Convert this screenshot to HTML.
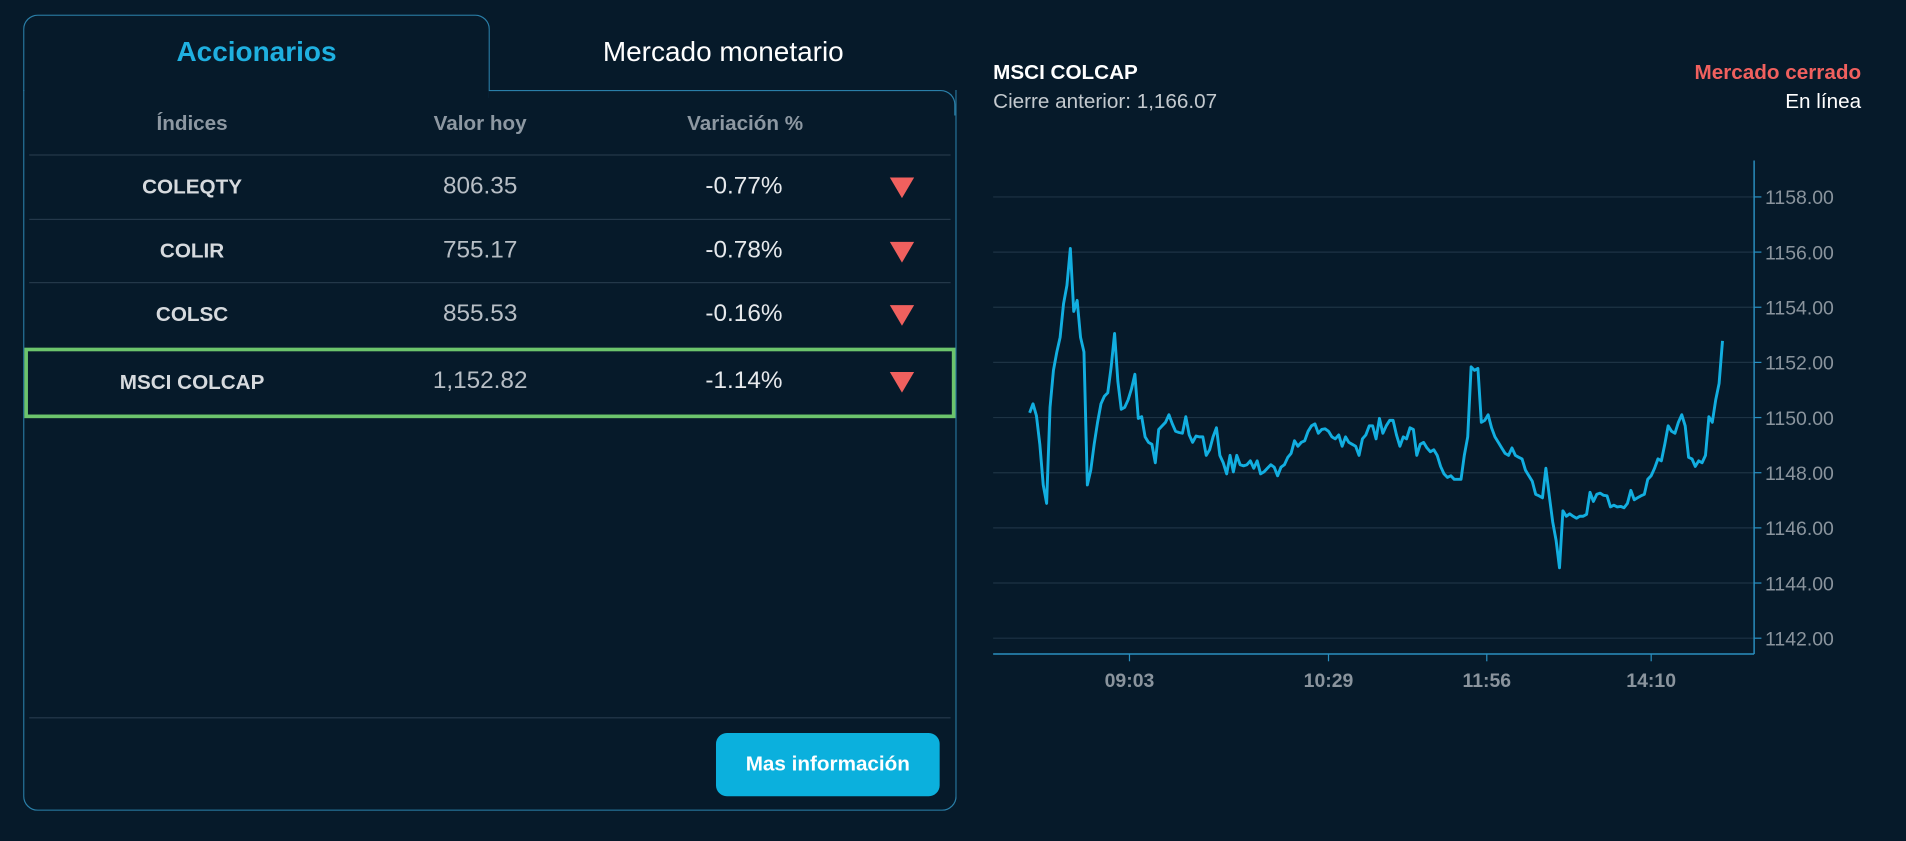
<!DOCTYPE html>
<html><head><meta charset="utf-8"><style>
html,body{margin:0;padding:0;width:1906px;height:841px;overflow:hidden;background:#061a2a;font-family:"Liberation Sans",sans-serif;}
#w{position:absolute;left:0;top:0;width:1568px;height:692px;transform:scale(1.2156);transform-origin:0 0;}
.a{position:absolute;}
.c{transform:translateX(-50%);white-space:nowrap;}
.hd{color:#8d98a2;font-size:17px;font-weight:bold;top:92px;}
.nm{color:#d6dade;font-size:17px;font-weight:bold;}
.vl{color:#b7bec5;font-size:20px;}
.pc{color:#e6e9ec;font-size:20px;}
.tri{width:0;height:0;border-left:10px solid transparent;border-right:10px solid transparent;border-top:17px solid #f0605e;}
.ln{left:24px;width:758px;height:1px;background:#24384a;}
</style></head><body>
<div id="w">
<div class="a" style="left:19px;top:12px;width:382px;height:62px;border:1px solid #2a7fa8;border-bottom:none;border-radius:12px 12px 0 0;"></div>
<div class="a" style="left:19px;top:74px;width:766px;height:592px;border:1px solid #2a7fa8;border-top:none;border-radius:0 0 12px 12px;"></div>
<div class="a" style="left:402px;top:74px;width:383px;height:20px;border-top:1px solid #2a7fa8;border-right:1px solid #2a7fa8;border-radius:0 12px 0 0;background:#061a2a;"></div>
<div class="a c" style="left:211px;top:29px;color:#1fb0e0;font-size:23px;font-weight:bold;">Accionarios</div>
<div class="a c" style="left:595px;top:29px;color:#ffffff;font-size:23px;">Mercado monetario</div>
<div class="a c hd" style="left:158px;">Índices</div>
<div class="a c hd" style="left:395px;">Valor hoy</div>
<div class="a c hd" style="left:613px;">Variación %</div>
<div class="a ln" style="top:127px;"></div>
<div class="a ln" style="top:180px;"></div>
<div class="a ln" style="top:232px;"></div>
<div class="a ln" style="top:590px;"></div>

<div class="a c nm" style="left:158px;top:144px;">COLEQTY</div>
<div class="a c vl" style="left:395px;top:142px;">806.35</div>
<div class="a c pc" style="left:612px;top:142px;">-0.77%</div>
<div class="a tri" style="left:732px;top:146px;"></div>

<div class="a c nm" style="left:158px;top:197px;">COLIR</div>
<div class="a c vl" style="left:395px;top:195px;">755.17</div>
<div class="a c pc" style="left:612px;top:195px;">-0.78%</div>
<div class="a tri" style="left:732px;top:199px;"></div>

<div class="a c nm" style="left:158px;top:249px;">COLSC</div>
<div class="a c vl" style="left:395px;top:247px;">855.53</div>
<div class="a c pc" style="left:612px;top:247px;">-0.16%</div>
<div class="a tri" style="left:732px;top:251px;"></div>

<div class="a" style="left:20px;top:286px;width:760px;height:52px;border:3px solid #6cc46c;"></div>
<div class="a c nm" style="left:158px;top:305px;">MSCI COLCAP</div>
<div class="a c vl" style="left:395px;top:302px;">1,152.82</div>
<div class="a c pc" style="left:612px;top:302px;">-1.14%</div>
<div class="a tri" style="left:732px;top:306px;"></div>

<div class="a" style="left:589px;top:603px;width:184px;height:52px;background:#0bb0dd;border-radius:9px;color:#fff;font-size:17px;font-weight:bold;text-align:center;line-height:52px;">Mas información</div>

<div class="a" style="left:817px;top:50px;color:#fff;font-size:17px;font-weight:bold;">MSCI COLCAP</div>
<div class="a" style="left:817px;top:74px;color:#c3c9ce;font-size:17px;">Cierre anterior: 1,166.07</div>
<div class="a" style="right:37px;top:50px;color:#f0605e;font-size:17px;font-weight:bold;">Mercado cerrado</div>
<div class="a" style="right:37px;top:74px;color:#fff;font-size:17px;">En línea</div>

<svg class="a" id="chart" style="left:0;top:0;" width="1568" height="692"></svg>
</div>
<script>
const values=[1150.17,1150.50,1150.07,1149.03,1147.56,1146.89,1150.37,1151.71,1152.38,1152.91,1154.12,1154.79,1156.13,1153.85,1154.25,1152.91,1152.38,1147.56,1148.09,1149.03,1149.83,1150.50,1150.77,1150.90,1151.84,1153.05,1151.31,1150.30,1150.37,1150.64,1151.04,1151.57,1149.97,1150.03,1149.30,1149.10,1149.03,1148.36,1149.57,1149.70,1149.83,1150.10,1149.77,1149.50,1149.46,1149.43,1150.03,1149.37,1149.10,1149.33,1149.30,1149.30,1148.63,1148.83,1149.30,1149.63,1148.63,1148.36,1147.96,1148.63,1148.03,1148.63,1148.29,1148.25,1148.29,1148.43,1148.16,1148.43,1147.96,1148.03,1148.16,1148.29,1148.20,1147.89,1148.20,1148.29,1148.56,1148.70,1149.16,1148.96,1149.10,1149.16,1149.50,1149.70,1149.77,1149.43,1149.57,1149.59,1149.50,1149.30,1149.23,1149.37,1148.96,1149.30,1149.10,1149.03,1148.96,1148.63,1149.23,1149.37,1149.70,1149.70,1149.23,1149.97,1149.43,1149.70,1149.90,1149.90,1149.37,1148.96,1149.30,1149.23,1149.63,1149.57,1148.63,1149.03,1149.10,1148.90,1148.76,1148.83,1148.63,1148.23,1147.96,1147.83,1147.89,1147.76,1147.76,1147.76,1148.63,1149.30,1151.84,1151.71,1151.78,1149.83,1149.90,1150.10,1149.63,1149.30,1149.10,1148.90,1148.70,1148.63,1148.90,1148.63,1148.56,1148.50,1148.09,1147.89,1147.69,1147.22,1147.16,1147.09,1148.16,1147.16,1146.22,1145.55,1144.55,1146.62,1146.42,1146.51,1146.42,1146.35,1146.42,1146.42,1146.49,1147.29,1146.96,1147.22,1147.26,1147.18,1147.16,1146.76,1146.82,1146.76,1146.78,1146.73,1146.89,1147.36,1147.02,1147.09,1147.16,1147.22,1147.76,1147.89,1148.16,1148.50,1148.43,1149.03,1149.70,1149.50,1149.43,1149.83,1150.10,1149.70,1148.56,1148.50,1148.23,1148.43,1148.36,1148.63,1150.03,1149.83,1150.64,1151.24,1152.78];
const yTicks=[1142,1144,1146,1148,1150,1152,1154,1156,1158];
const xTickLabels=["09:03","10:29","11:56","14:10"];
const xTickIndex=[29.4,88,134.6,183];

const NS="http://www.w3.org/2000/svg";
const svg=document.getElementById('chart');
const X0=847,X1=1417,Y0=525,Y1=162,YMIN=1142,YMAX=1158;
const xs=i=>X0+(X1-X0)*i/(values.length-1);
const ys=v=>Y0-(v-YMIN)/(YMAX-YMIN)*(Y0-Y1);
function mk(t,a){const e=document.createElementNS(NS,t);for(const k in a)e.setAttribute(k,a[k]);svg.appendChild(e);return e;}
yTicks.forEach(v=>{
  const g=mk('line',{x1:817,x2:1443,y1:ys(v),y2:ys(v),stroke:'#1d3344','stroke-width':1});
  
  
  const tk=mk('line',{x1:1443,x2:1449,y1:ys(v),y2:ys(v),stroke:'#2a8fc0'});
  
  
  const t=mk('text',{x:1452,y:ys(v)+6,fill:'#8a949d','font-size':16,'font-family':'Liberation Sans, sans-serif'});
  t.textContent=v.toFixed(2);
  
  
});
const ya=mk('line',{x1:1443,x2:1443,y1:132,y2:538,stroke:'#2a8fc0','stroke-width':1.2});


const xa=mk('line',{x1:817,x2:1443,y1:538,y2:538,stroke:'#2a8fc0','stroke-width':1.2});


xTickLabels.forEach((l,k)=>{
  const x=xs(xTickIndex[k]);
  const tk=mk('line',{x1:x,x2:x,y1:538,y2:544,stroke:'#2a8fc0'});
  
  
  const t=mk('text',{x:x,y:565,fill:'#8a949d','font-size':16,'font-weight':'bold','text-anchor':'middle','font-family':'Liberation Sans, sans-serif'});
  t.textContent=l;
  
  
});
const p=mk('polyline',{points:values.map((v,i)=>xs(i).toFixed(1)+','+ys(v).toFixed(1)).join(' '),fill:'none',stroke:'#12aee0','stroke-width':2.4,'stroke-linejoin':'round'});


</script>
</body></html>
